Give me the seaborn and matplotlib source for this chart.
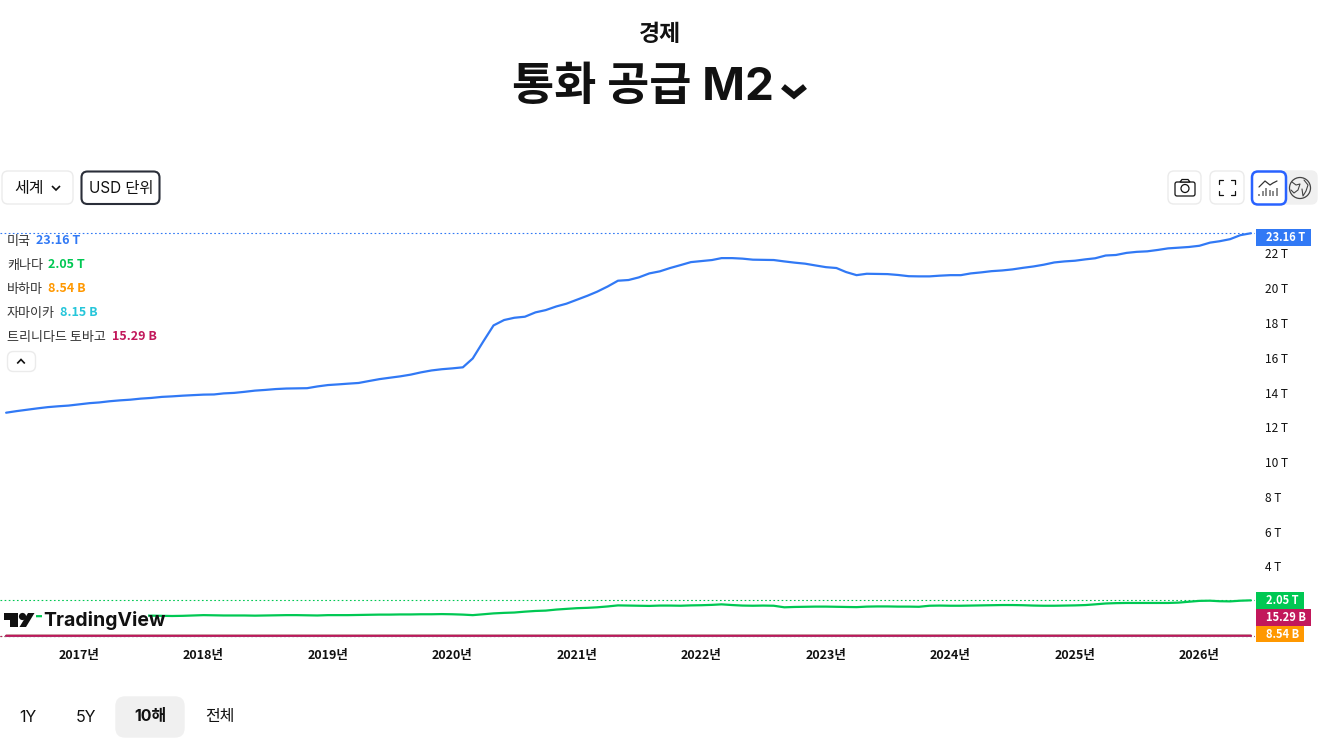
import numpy as np
import pandas as pd
import matplotlib
matplotlib.use("Agg")
import matplotlib.pyplot as plt
from matplotlib.patches import FancyBboxPatch, Rectangle, Circle, Polygon
from matplotlib.ticker import FuncFormatter
import matplotlib.dates as mdates
import seaborn as sns

# monatliche Werte in Bio. USD, von Juni 2016 bis Juni 2026
us_values = [
    12.84, 12.93, 13.01, 13.09, 13.16, 13.21, 13.25, 13.32, 13.39, 13.43,
    13.50, 13.55, 13.59, 13.65, 13.69, 13.75, 13.78, 13.82, 13.85, 13.88,
    13.89, 13.95, 13.98, 14.04, 14.11, 14.15, 14.20, 14.23, 14.24, 14.25,
    14.35, 14.43, 14.47, 14.51, 14.55, 14.66, 14.77, 14.85, 14.93, 15.03,
    15.16, 15.27, 15.34, 15.39, 15.45, 15.96, 16.94, 17.86, 18.17, 18.30,
    18.36, 18.61, 18.74, 18.95, 19.11, 19.34, 19.57, 19.80, 20.10, 20.43,
    20.47, 20.62, 20.85, 20.97, 21.16, 21.33, 21.50, 21.56, 21.62, 21.73,
    21.73, 21.70, 21.64, 21.63, 21.62, 21.54, 21.47, 21.41, 21.31, 21.21,
    21.16, 20.93, 20.75, 20.83, 20.82, 20.81, 20.76, 20.69, 20.68, 20.68,
    20.72, 20.75, 20.75, 20.85, 20.91, 20.98, 21.02, 21.08, 21.17, 21.25,
    21.35, 21.48, 21.54, 21.58, 21.66, 21.72, 21.88, 21.91, 22.03, 22.09,
    22.12, 22.20, 22.29, 22.33, 22.37, 22.44, 22.62, 22.70, 22.82, 23.05,
    23.16,
]
canada_values = [
    1.12, 1.12, 1.13, 1.14, 1.14, 1.15, 1.15, 1.15, 1.16, 1.16,
    1.15, 1.16, 1.17, 1.17, 1.17, 1.16, 1.15, 1.16, 1.18, 1.20,
    1.19, 1.18, 1.18, 1.18, 1.17, 1.18, 1.19, 1.20, 1.20, 1.19,
    1.18, 1.20, 1.20, 1.20, 1.21, 1.22, 1.23, 1.23, 1.24, 1.24,
    1.25, 1.25, 1.26, 1.25, 1.23, 1.20, 1.25, 1.30, 1.33, 1.35,
    1.40, 1.44, 1.46, 1.52, 1.56, 1.60, 1.62, 1.65, 1.70, 1.76,
    1.75, 1.74, 1.73, 1.75, 1.75, 1.74, 1.76, 1.77, 1.79, 1.82,
    1.78, 1.75, 1.74, 1.75, 1.74, 1.65, 1.67, 1.68, 1.69, 1.69,
    1.68, 1.67, 1.66, 1.69, 1.70, 1.70, 1.69, 1.69, 1.68, 1.74,
    1.75, 1.74, 1.74, 1.75, 1.76, 1.77, 1.78, 1.78, 1.77, 1.75,
    1.74, 1.74, 1.75, 1.76, 1.78, 1.82, 1.87, 1.89, 1.90, 1.90,
    1.90, 1.90, 1.90, 1.92, 1.97, 2.02, 2.03, 2.00, 1.99, 2.03,
    2.05,
]
# kleine Länder: jährlich im Juni, Mrd. USD (im Bild nur als flache Linie lesbar)
bahamas_values = [6.2, 6.3, 6.4, 6.4, 6.5, 7.1, 7.5, 7.8, 8.0, 8.3, 8.54]
jamaica_values = [5.1, 5.4, 5.6, 5.8, 6.2, 6.8, 7.1, 7.4, 7.7, 8.0, 8.15]
trinidad_values = [12.4, 12.5, 12.6, 12.8, 13.3, 13.6, 13.9, 14.2, 14.6, 15.0, 15.29]

countries = ["미국", "캐나다", "바하마", "자마이카", "트리니다드 토바고"]
value_labels = ["23.16 T", "2.05 T", "8.54 B", "8.15 B", "15.29 B"]
last_values = [23.16, 2.05, 0.00854, 0.00815, 0.01529]
colors = ["#3179F5", "#00C853", "#FF9800", "#26C6DA", "#C2185B"]
year_ticks = list(range(2017, 2027))
y_ticks = [4, 6, 8, 10, 12, 14, 16, 18, 20, 22]
range_tabs = ["1Y", "5Y", "10해", "전체"]

FONT = ["Noto Sans CJK KR", "DejaVu Sans"]
TITLE_FONT = ["Inter", "Noto Sans CJK KR"]
INK = "#111111"

sns.set_theme(style="white")
plt.rcParams["font.family"] = FONT
plt.rcParams["axes.unicode_minus"] = False

months = pd.date_range("2016-06-01", periods=len(us_values), freq="MS")
years = pd.date_range("2016-06-01", periods=len(bahamas_values), freq="12MS")

frames = [
    pd.DataFrame({"date": months, "value": us_values, "country": countries[0]}),
    pd.DataFrame({"date": months, "value": canada_values, "country": countries[1]}),
    pd.DataFrame({"date": years, "value": np.array(bahamas_values) / 1000, "country": countries[2]}),
    pd.DataFrame({"date": years, "value": np.array(jamaica_values) / 1000, "country": countries[3]}),
    pd.DataFrame({"date": years, "value": np.array(trinidad_values) / 1000, "country": countries[4]}),
]
df = pd.concat(frames)

W, H = 1329, 742
fig = plt.figure(figsize=(W / 100, H / 100), dpi=100)
fig.patch.set_facecolor("white")

# Chartbereich: Pixel 0..1255 horizontal, 229..646 vertikal
ax = fig.add_axes([0, 1 - 646 / H, 1255 / W, (646 - 229) / H])
sns.lineplot(
    data=df, x="date", y="value", hue="country", hue_order=countries,
    palette=colors, linewidth=1.6, estimator=None, legend=False, ax=ax,
)
for val, col in zip(last_values, colors):
    ax.axhline(val, color=col, linewidth=0.8, linestyle=(0, (1.5, 2.2)), zorder=1)

ax.set_xlim(pd.Timestamp("2016-05-14"), pd.Timestamp("2026-06-13"))
ax.set_ylim(-0.575, 23.404)
ax.set_xlabel("")
ax.set_ylabel("")
ax.set_xticks([pd.Timestamp(f"{y}-01-01") for y in year_ticks])
ax.xaxis.set_major_formatter(mdates.DateFormatter("%Y년"))
ax.set_yticks(y_ticks)
ax.yaxis.tick_right()
ax.yaxis.set_major_formatter(FuncFormatter(lambda v, p: f"{int(v)} T"))
ax.tick_params(axis="x", length=0, pad=2.5, labelsize=9, labelcolor=INK)
ax.tick_params(axis="y", length=0, pad=7.5, labelsize=8.6, labelcolor=INK)
for lab in ax.get_xticklabels():
    lab.set_fontweight("bold")
sns.despine(ax=ax, left=True, bottom=True, right=True, top=True)

# Overlay in Pixelkoordinaten für die Bedienelemente
ui = fig.add_axes([0, 0, 1, 1], zorder=5)
ui.set_xlim(0, W)
ui.set_ylim(H, 0)
ui.axis("off")
ui.patch.set_alpha(0)


def button(x0, y0, x1, y1, edge="#EBEBEB", lw=1.0, face="white", r=6):
    ui.add_patch(FancyBboxPatch((x0 + r, y0 + r), x1 - x0 - 2 * r, y1 - y0 - 2 * r,
                                boxstyle=f"round,pad={r},rounding_size={r}",
                                fc=face, ec=edge, lw=lw))


def chevron(cx, cy, w, h, lw=1.2, color=INK):
    ui.plot([cx - w, cx, cx + w], [cy - h, cy + h, cy - h], color=color, lw=lw,
            solid_joinstyle="miter", solid_capstyle="butt")


# Titel
ui.text(660, 35, "경제", ha="center", va="center", fontsize=16.5, fontweight="bold",
        family=TITLE_FONT, color=INK)
ui.text(642.5, 88, "통화 공급 M2", ha="center", va="center", fontsize=33, fontweight="bold",
        family=TITLE_FONT, color=INK)
chevron(794, 91, 11, 4.5, lw=4.4, color="#111111")

# obere Buttons
button(2, 171, 73, 204)
ui.text(29, 188, "세계", ha="center", va="center", fontsize=11.5, family=TITLE_FONT, color=INK)
chevron(56, 188, 4, 2)
button(81.5, 171.5, 159.5, 204, edge="#2A2E39", lw=1.5)
ui.text(121, 188, "USD 단위", ha="center", va="center", fontsize=11, family=TITLE_FONT, color=INK)

# Kamera
button(1168, 171, 1201, 204)
button(1175, 182, 1195, 196, edge=INK, lw=0.9, r=2)
ui.add_patch(Polygon([(1180, 182), (1182, 179.5), (1188, 179.5), (1190, 182)], fc="white", ec=INK, lw=0.9))
ui.add_patch(Circle((1185, 188.5), 4, fc="white", ec=INK, lw=0.9))
# Vollbild
button(1210, 171, 1244, 204)
for sx, sy in [(1219, 180), (1235, 180), (1219, 195), (1235, 195)]:
    dx = 4 if sx < 1227 else -4
    dy = 4 if sy < 187 else -4
    ui.plot([sx + dx, sx, sx], [sy, sy, sy + dy], color=INK, lw=0.9)
# Chart/Globus Umschalter
button(1280, 171, 1317, 204, edge="#F0F0F0", face="#F0F0F0")
button(1252, 171.5, 1286, 204.5, edge="#2962FF", lw=1.8)
ui.plot([1259, 1265, 1270, 1273, 1277], [187, 181, 185, 183, 181], color="#333333", lw=0.9)
ui.vlines([1259, 1262.5, 1266, 1269.5, 1273, 1276.5], [194, 191, 188, 190, 191, 188], 196,
          color="#777777", lw=1.2)
ui.add_patch(Circle((1300, 188), 10.5, fc="none", ec="#444444", lw=0.9))
ui.plot([1292, 1296, 1300, 1298, 1294, 1291], [182, 185, 184, 190, 193, 190], color="#444444", lw=0.8)
ui.plot([1304, 1308, 1306, 1303, 1302], [180, 185, 191, 196, 189], color="#444444", lw=0.8)

# Legende oben links
legend_y = [241, 265, 289, 313, 337]
value_x = [36, 48, 48, 60, 112]
for name, lab, col, y, vx in zip(countries, value_labels, colors, legend_y, value_x):
    ui.text(7, y, name, ha="left", va="center", fontsize=9.4, color="#333333")
    ui.text(vx, y, lab, ha="left", va="center", fontsize=9, fontweight="bold", color=col)
button(7.5, 351.5, 35.5, 371.5)
chevron(21, 361.5, 3.8, -2, lw=1.2)

# Preis-Tags rechts
tags = [
    (229, 246, 55, 0),
    (592, 609, 48, 1),
    (626, 642, 48, 2),
    (609, 626, 55, 4),
]
for y0, y1, w, idx in tags:
    ui.add_patch(Rectangle((1256, y0), w, y1 - y0, fc=colors[idx], ec="none"))
    ui.text(1266, (y0 + y1) / 2, value_labels[idx], ha="left", va="center",
            fontsize=8, fontweight="bold", color="white")

# TradingView Logo, mit weißem Rand über der Linie
ui.add_patch(Rectangle((3, 610), 33, 20, fc="white", ec="none"))
ui.add_patch(Rectangle((42, 611), 106, 22, fc="white", ec="none"))
ui.add_patch(Polygon([(4, 613), (18, 613), (18, 627), (10, 627), (10, 620), (4, 620)], fc="#111111", ec="none"))
ui.add_patch(Circle((22.5, 616.5), 3.6, fc="#111111", ec="none"))
ui.add_patch(Polygon([(28, 613), (34.5, 613), (26, 627), (19.5, 627)], fc="#111111", ec="none"))
ui.text(43, 620.5, "TradingView", ha="left", va="center", fontsize=14, fontweight="bold",
        family=TITLE_FONT, color="#111111")

# Zeitraum-Tabs
button(116, 697, 184, 737, edge="#F0F0F0", face="#F0F0F0", r=9)
tab_x = [28, 86, 150, 220]
for tab, x in zip(range_tabs, tab_x):
    bold = tab == "10해"
    ui.text(x, 717, tab, ha="center", va="center", fontsize=11.5,
            fontweight="bold" if bold else "normal", family=TITLE_FONT, color=INK)

fig.savefig("out.png", dpi=100, facecolor="white")
